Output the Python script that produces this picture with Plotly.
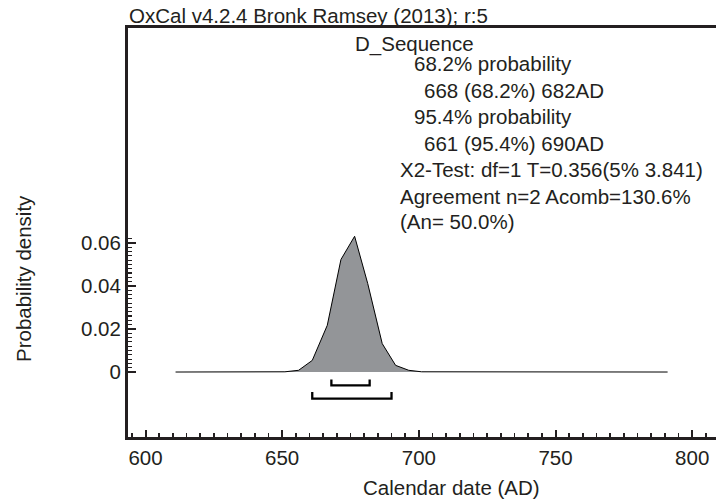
import plotly.graph_objects as go

# ---- data ----
dates = [611, 651, 656, 661, 666.5, 671.5, 676.5, 681.3, 686.6, 691.5, 696.3, 701, 791]
density = [0.0, 0.0001, 0.0008, 0.0054, 0.0217, 0.0523, 0.0631, 0.0411, 0.0132, 0.0031, 0.0008, 0.0001, 0.0]
range68 = [668, 682]
range95 = [661, 690]
x_ticks = [600, 650, 700, 750, 800]
y_ticks = [0, 0.02, 0.04, 0.06]
y_ticklabels = ["0", "0.02", "0.04", "0.06"]
header = "OxCal v4.2.4 Bronk Ramsey (2013); r:5"
name = "D_Sequence"
info_lines = [
    "68.2% probability",
    "668 (68.2%) 682AD",
    "95.4% probability",
    "661 (95.4%) 690AD",
    "X2-Test: df=1 T=0.356(5% 3.841)",
    "Agreement n=2 Acomb=130.6%",
    "(An= 50.0%)",
]
x_title = "Calendar date (AD)"
y_title = "Probability density"

# ---- layout geometry ----
W, H = 716, 501
L, T, B = 128, 28, 437
PW, PH = W - L, B - T
TXT = "#231f20"
FONT = "Liberation Sans"
FS = 20.5


def px(x):
    return (x - L) / PW


def py(y):
    return (B - y) / PH


fig = go.Figure()
fig.add_trace(go.Scatter(
    x=dates, y=density, mode="lines", fill="tozeroy",
    fillcolor="#939598", line=dict(color="#000000", width=1),
    hoverinfo="skip", showlegend=False))

# range brackets
b68_top, b68_bot = -0.0035, -0.0062
b95_top, b95_bot = -0.0093, -0.0124
for (a, b), (t, bt) in [(range68, (b68_top, b68_bot)), (range95, (b95_top, b95_bot))]:
    fig.add_trace(go.Scatter(
        x=[a, a, b, b], y=[t, bt, bt, t], mode="lines",
        line=dict(color="#000000", width=2.3), hoverinfo="skip", showlegend=False))

ann = []
ann.append(dict(text=header, x=px(127), y=py(15), xanchor="left", yanchor="middle",
                font=dict(size=FS, color=TXT, family=FONT)))
ann.append(dict(text=name, x=px(414), y=py(44), xanchor="center", yanchor="middle",
                font=dict(size=FS, color=TXT, family=FONT)))
line_x = [411.7, 421.7, 411.7, 421.7, 398.3, 398.3, 398.3]
line_y = [63, 90.3, 116, 143, 169.7, 196.3, 222]
for t, lx, ly in zip(info_lines, line_x, line_y):
    ann.append(dict(text=t, x=px(lx), y=py(ly), xanchor="left", yanchor="middle",
                    font=dict(size=FS, color=TXT, family=FONT)))
ann.append(dict(text=x_title, x=px(452), y=py(487), xanchor="center", yanchor="middle",
                font=dict(size=FS, color=TXT, family=FONT)))
ann.append(dict(text=y_title, x=px(23), y=py(279), xanchor="center", yanchor="middle",
                textangle=-90, font=dict(size=FS, color=TXT, family=FONT)))
for a in ann:
    a.update(xref="paper", yref="paper", showarrow=False)

fig.update_layout(
    width=W, height=H,
    margin=dict(l=L, r=0, t=T, b=H - B, pad=0),
    paper_bgcolor="white", plot_bgcolor="white",
    font=dict(family=FONT, size=FS, color=TXT),
    annotations=ann,
    xaxis=dict(
        range=[593.6, 808.7], tickvals=x_ticks, ticks="inside", ticklen=7, tickwidth=2,
        tickcolor="#231f20", showline=True, linecolor="#231f20", linewidth=3,
        mirror=True, showgrid=False, zeroline=False,
        tickfont=dict(size=FS, color=TXT, family=FONT),
        minor=dict(dtick=5, tick0=0, ticks="inside", ticklen=4, tickwidth=1.5,
                   tickcolor="#231f20", showgrid=False),
    ),
    yaxis=dict(
        range=[-0.0302, 0.1599], tickvals=y_ticks, ticktext=y_ticklabels,
        ticks="inside", ticklen=8, tickwidth=2, tickcolor="#231f20",
        showline=True, linecolor="#231f20", linewidth=3, mirror=False,
        showgrid=False, zeroline=False,
        tickfont=dict(size=FS, color=TXT, family=FONT),
        minor=dict(tickvals=[round(0.002 * i, 3) for i in range(1, 32)], ticks="inside",
                   ticklen=4, tickwidth=1.2, tickcolor="#231f20", showgrid=False),
    ),
)

fig.write_html(
    "out.html",
    config={"displayModeBar": False, "staticPlot": True},
    post_script="document.body.style.margin='0';document.body.style.overflow='hidden';",
)
